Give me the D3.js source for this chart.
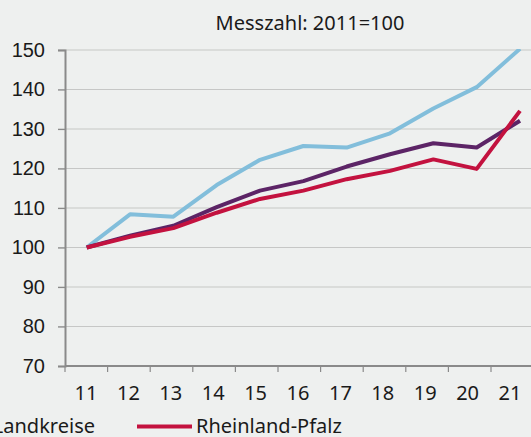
<!DOCTYPE html>
<html>
<head>
<meta charset="utf-8">
<script src="https://cdn.jsdelivr.net/npm/d3@7"></script>
<style>
  body { margin: 0; background: #eef0ef; }
  svg { display: block; font-family: "Noto Sans", "Open Sans", sans-serif; }
</style>
</head>
<body>
<div id="chart"></div>
<script>
// years (labels shown as two digits)
const years = ["11", "12", "13", "14", "15", "16", "17", "18", "19", "20", "21"];
const yTicks = [70, 80, 90, 100, 110, 120, 130, 140, 150];

// Messzahl 2011 = 100
const kreisfreieStaedte = [100, 108.4, 107.8, 115.8, 122.2, 125.7, 125.3, 128.9, 135.2, 140.6, 150.3];
const landkreise = [100, 103.0, 105.5, 110.2, 114.4, 116.8, 120.5, 123.6, 126.4, 125.3, 132.1];
const rheinlandPfalz = [100, 102.7, 104.9, 108.8, 112.3, 114.4, 117.3, 119.4, 122.3, 119.9, 134.6];

const seriesNames = ["Kreisfreie Städte", "Landkreise", "Rheinland-Pfalz"];
const seriesColors = ["#82bedb", "#5c2466", "#c3123f"];
const seriesValues = [kreisfreieStaedte, landkreise, rheinlandPfalz];

var width = 531, height = 437;
var margin = { top: 50, right: 0, bottom: 71, left: 65 };
var fontSize = "20px";

var svg = d3.select("#chart").append("svg")
    .attr("width", width).attr("height", height);

var yAxis = d3.scaleLinear()
    .domain([70, 150])
    .range([height - margin.bottom, margin.top]);

// category bands for the axis ticks
var xBand = d3.scaleBand()
    .domain(years)
    .range([margin.left, margin.left + 11 * 42.6]);

// label positions
var xLabel = d3.scalePoint()
    .domain(years)
    .range([86, 510]);

// line points
var xLine = d3.scalePoint()
    .domain(years)
    .range([86.7, 520]);

// title
svg.append("text")
    .attr("x", 310).attr("y", 30)
    .attr("text-anchor", "middle")
    .style("font-size", fontSize).style("fill", "#1a1a1a")
    .text("Messzahl: 2011=100");

// gridlines
svg.append("g").selectAll("line")
    .data(yTicks.filter(d => d > 70))
    .join("line")
    .attr("x1", margin.left - 7).attr("x2", width)
    .attr("y1", d => yAxis(d)).attr("y2", d => yAxis(d))
    .attr("stroke", "#c6c7c6").attr("stroke-width", 1.2);

// y axis
var gy = svg.append("g")
    .attr("transform", "translate(" + margin.left + ",0)")
    .call(d3.axisLeft(yAxis).tickValues(yTicks).tickSize(7).tickPadding(13));
gy.select(".domain").attr("stroke", "#8a8a8a").attr("stroke-width", 2);
gy.selectAll(".tick line").attr("stroke", "#8a8a8a").attr("stroke-width", 1.2);
gy.selectAll("text").style("font-size", fontSize).style("fill", "#1a1a1a")
    .attr("font-family", null);

// x axis line and ticks
var gx = svg.append("g")
    .attr("transform", "translate(0," + yAxis(70) + ")");
gx.append("line")
    .attr("x1", margin.left).attr("x2", width)
    .attr("stroke", "#8a8a8a").attr("stroke-width", 2);
gx.selectAll(".tk")
    .data(years)
    .join("line")
    .attr("class", "tk")
    .attr("x1", d => xBand(d)).attr("x2", d => xBand(d))
    .attr("y1", 0).attr("y2", 6)
    .attr("stroke", "#8a8a8a").attr("stroke-width", 1.2);
gx.selectAll(".lbl")
    .data(years)
    .join("text")
    .attr("class", "lbl")
    .attr("x", d => xLabel(d)).attr("y", 34)
    .attr("text-anchor", "middle")
    .style("font-size", fontSize).style("fill", "#1a1a1a")
    .text(d => d);

// lines
var line = d3.line()
    .x((d, i) => xLine(years[i]))
    .y(d => yAxis(d));

svg.append("clipPath").attr("id", "clip")
    .append("rect").attr("x", 0).attr("y", margin.top - 1)
    .attr("width", width).attr("height", height);

svg.append("g").attr("clip-path", "url(#clip)")
    .selectAll("path")
    .data(seriesValues)
    .join("path")
    .attr("fill", "none")
    .attr("stroke", (d, i) => seriesColors[i])
    .attr("stroke-width", 4)
    .attr("stroke-linejoin", "round")
    .attr("d", d => line(d));

// legend (the row starts left of the visible area, as in the original)
var legend = svg.append("g");
// Landkreise: text ends at x=95, swatch lies off-screen
legend.append("line")
    .attr("x1", -65).attr("x2", -10)
    .attr("y1", 426.5).attr("y2", 426.5)
    .attr("stroke", seriesColors[1]).attr("stroke-width", 4);
legend.append("text")
    .attr("x", 95).attr("y", 433)
    .attr("text-anchor", "end")
    .style("font-size", fontSize).style("fill", "#1a1a1a")
    .text(seriesNames[1]);
// Rheinland-Pfalz
legend.append("line")
    .attr("x1", 137).attr("x2", 192)
    .attr("y1", 426.5).attr("y2", 426.5)
    .attr("stroke", seriesColors[2]).attr("stroke-width", 4);
legend.append("text")
    .attr("x", 196).attr("y", 433)
    .style("font-size", fontSize).style("fill", "#1a1a1a")
    .text(seriesNames[2]);
</script>
</body>
</html>
